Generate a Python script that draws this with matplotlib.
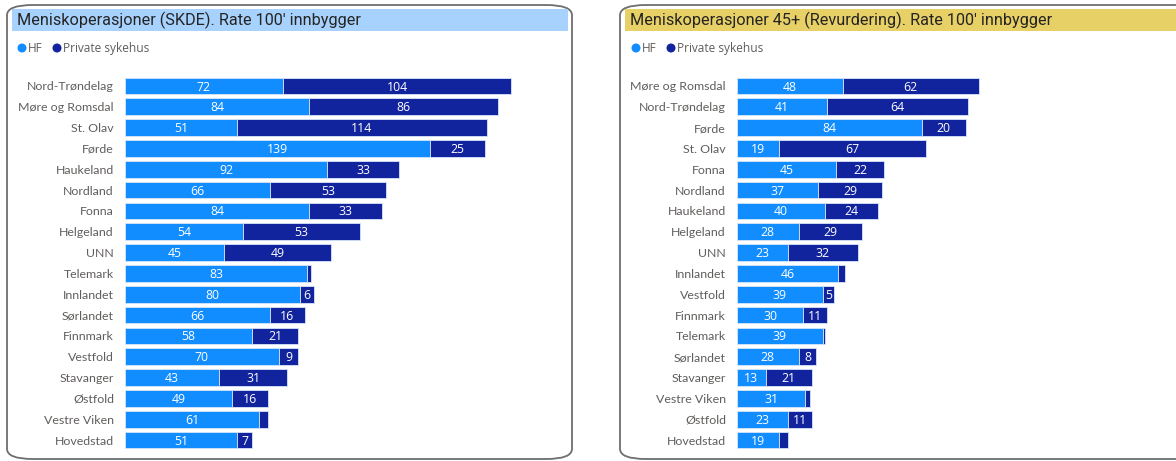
import matplotlib
matplotlib.use("Agg")
import matplotlib.pyplot as plt
from matplotlib.patches import FancyBboxPatch, Rectangle, Ellipse
import numpy as np

# ---------------- data ----------------
left_title = "Meniskoperasjoner (SKDE). Rate 100' innbygger"
left_cats = ["Nord-Trøndelag", "Møre og Romsdal", "St. Olav", "Førde", "Haukeland",
             "Nordland", "Fonna", "Helgeland", "UNN", "Telemark", "Innlandet",
             "Sørlandet", "Finnmark", "Vestfold", "Stavanger", "Østfold",
             "Vestre Viken", "Hovedstad"]
left_hf = [72, 84, 51, 139, 92, 66, 84, 54, 45, 83, 80, 66, 58, 70, 43, 49, 61, 51]
left_priv = [104, 86, 114, 25, 33, 53, 33, 53, 49, 2, 6, 16, 21, 9, 31, 16, 4, 7]

right_title = "Meniskoperasjoner 45+ (Revurdering). Rate 100' innbygger"
right_cats = ["Møre og Romsdal", "Nord-Trøndelag", "Førde", "St. Olav", "Fonna",
              "Nordland", "Haukeland", "Helgeland", "UNN", "Innlandet", "Vestfold",
              "Finnmark", "Telemark", "Sørlandet", "Stavanger", "Vestre Viken",
              "Østfold", "Hovedstad"]
right_hf = [48, 41, 84, 19, 45, 37, 40, 28, 23, 46, 39, 30, 39, 28, 13, 31, 23, 19]
right_priv = [62, 64, 20, 67, 22, 29, 24, 29, 32, 3, 5, 11, 1, 8, 21, 2, 11, 4]

legend_labels = ["HF", "Private sykehus"]

# ---------------- style ----------------
W, H = 1176, 461
C_HF = "#118DFF"
C_PRIV = "#12239E"
GRAY = "#605E5C"
FONT = "Open Sans"
CATFONT = "Lato"

fig = plt.figure(figsize=(W / 100, H / 100), dpi=100)


def fx(x):
    return x / W


def fy(y):
    return 1 - y / H


def panel(x0, x1, y0, y1, tx0, tx1, tcol, title, bar_x0, scale, cats, hf, priv, leg_x):
    box = FancyBboxPatch((fx(x0), fy(y1)), fx(x1) - fx(x0), fy(y0) - fy(y1),
                         boxstyle="round,pad=0,rounding_size=0.022",
                         transform=fig.transFigure, facecolor="white",
                         edgecolor="#6E6E6E", linewidth=1.3, zorder=-3)
    fig.add_artist(box)
    fig.add_artist(Rectangle((fx(tx0), fy(31)), fx(tx1) - fx(tx0), fy(9) - fy(31),
                             transform=fig.transFigure, facecolor=tcol,
                             edgecolor="none", zorder=-2))
    fig.text(fx(tx0 + 5), fy(20.5), title, fontsize=11.7, family="Roboto",
             color="#252423", va="center", ha="left")
    lx = leg_x
    for lab, col in zip(legend_labels, [C_HF, C_PRIV]):
        fig.add_artist(Ellipse((fx(lx), fy(48)), 9 / W, 9 / H, transform=fig.transFigure,
                               facecolor=col, edgecolor="none"))
        fig.text(fx(lx + 6), fy(48.5), lab, fontsize=8.6, family=FONT,
                 color=GRAY, va="center", ha="left")
        lx += 35

    n = len(cats)
    pitch = (440 - 86) / (n - 1)
    top = 86 - pitch / 2
    bot = 440 + pitch / 2
    xmax = 200
    width_px = xmax * scale
    ax = fig.add_axes([fx(bar_x0), fy(bot), width_px / W, (bot - top) / H])
    ax.set_zorder(1)
    y = np.arange(n)
    hf = np.array(hf)
    priv = np.array(priv)
    ax.barh(y, hf, height=0.8, color=C_HF, edgecolor="#D6E6FA", linewidth=0.6)
    ax.barh(y, priv, left=hf, height=0.8, color=C_PRIV, edgecolor="#D6E6FA", linewidth=0.6)
    for i in range(n):
        if hf[i] >= 5:
            ax.text(hf[i] / 2, i + 0.05, str(hf[i]), ha="center", va="center",
                    color="white", fontsize=8.8, family=FONT)
        if priv[i] >= 5:
            ax.text(hf[i] + priv[i] / 2, i + 0.05, str(priv[i]), ha="center",
                    va="center", color="white", fontsize=8.8, family=FONT)
    ax.set_xlim(0, xmax)
    ax.set_ylim(n - 0.5, -0.5)
    ax.set_yticks(y)
    ax.set_yticklabels(cats, fontsize=8.9, family=CATFONT, color=GRAY)
    ax.tick_params(axis="y", length=0, pad=8)
    ax.set_xticks([])
    for s in ax.spines.values():
        s.set_visible(False)
    ax.patch.set_alpha(0)
    return ax


panel(7, 572, 5, 459, 12, 568, "#A6D2FD", left_title, 125, 2.193,
      left_cats, left_hf, left_priv, 22)
panel(620, 1200, 5, 459, 625, 1176, "#E7D066", right_title, 737, 2.2,
      right_cats, right_hf, right_priv, 636)

fig.savefig("out.png", dpi=100)
